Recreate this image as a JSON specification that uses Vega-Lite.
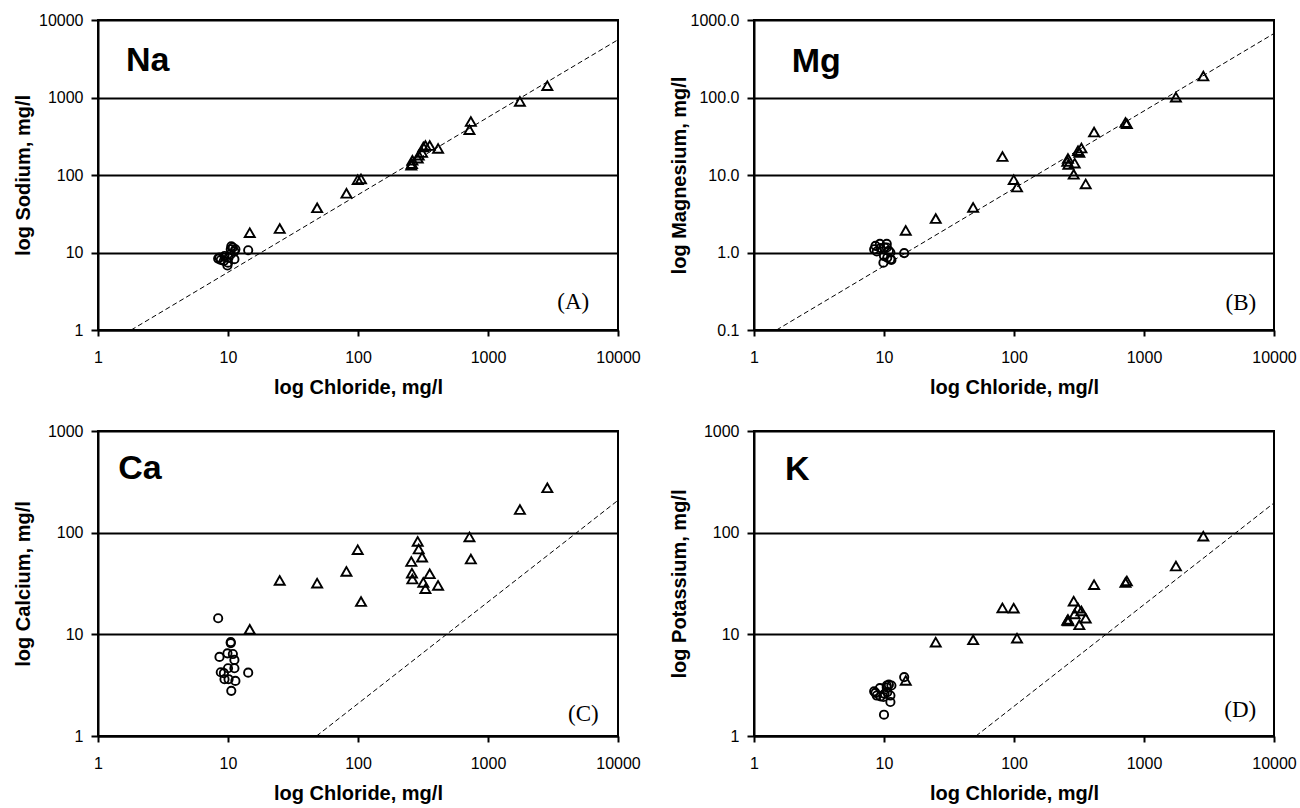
{
  "$schema": "https://vega.github.io/schema/vega-lite/v6.json",
  "background": "white",
  "padding": {"left": 12, "top": 11, "right": 2, "bottom": 2},
  "datasets": {
    "pts": [
      {"p":"A","g":"c","cl":8.4,"v":8.35},{"p":"A","g":"c","cl":8.6,"v":8.6},{"p":"A","g":"c","cl":8.8,"v":8.0},{"p":"A","g":"c","cl":9.3,"v":7.8},{"p":"A","g":"c","cl":9.4,"v":9.0},{"p":"A","g":"c","cl":9.9,"v":6.8},{"p":"A","g":"c","cl":10.0,"v":7.4},{"p":"A","g":"c","cl":10.1,"v":8.6},{"p":"A","g":"c","cl":10.5,"v":11.0},{"p":"A","g":"c","cl":10.5,"v":9.5},{"p":"A","g":"c","cl":10.6,"v":12.0},{"p":"A","g":"c","cl":10.9,"v":11.6},{"p":"A","g":"c","cl":11.2,"v":10.3},{"p":"A","g":"c","cl":11.2,"v":8.2},{"p":"A","g":"c","cl":11.4,"v":11.0},{"p":"A","g":"c","cl":14.3,"v":10.7},
      {"p":"A","g":"t","cl":14.7,"v":18},{"p":"A","g":"t","cl":25,"v":20.4},{"p":"A","g":"t","cl":48.5,"v":37.7},{"p":"A","g":"t","cl":81.5,"v":58},{"p":"A","g":"t","cl":99.5,"v":87},{"p":"A","g":"t","cl":105.5,"v":89},{"p":"A","g":"t","cl":257,"v":134},{"p":"A","g":"t","cl":260,"v":140},{"p":"A","g":"t","cl":262,"v":155},{"p":"A","g":"t","cl":288,"v":165},{"p":"A","g":"t","cl":293,"v":180},{"p":"A","g":"t","cl":311,"v":195},{"p":"A","g":"t","cl":318,"v":230},{"p":"A","g":"t","cl":330,"v":240},{"p":"A","g":"t","cl":356,"v":240},{"p":"A","g":"t","cl":413,"v":220},{"p":"A","g":"t","cl":720,"v":385},{"p":"A","g":"t","cl":738,"v":490},{"p":"A","g":"t","cl":1760,"v":890},{"p":"A","g":"t","cl":2860,"v":1420},
      {"p":"B","g":"c","cl":8.4,"v":1.1},{"p":"B","g":"c","cl":8.6,"v":1.22},{"p":"B","g":"c","cl":8.8,"v":1.03},{"p":"B","g":"c","cl":9.3,"v":1.29},{"p":"B","g":"c","cl":9.4,"v":1.14},{"p":"B","g":"c","cl":9.9,"v":0.74},{"p":"B","g":"c","cl":10.0,"v":0.9},{"p":"B","g":"c","cl":10.1,"v":1.16},{"p":"B","g":"c","cl":10.5,"v":1.29},{"p":"B","g":"c","cl":10.5,"v":1.16},{"p":"B","g":"c","cl":10.6,"v":0.86},{"p":"B","g":"c","cl":10.9,"v":1.05},{"p":"B","g":"c","cl":11.2,"v":0.82},{"p":"B","g":"c","cl":11.2,"v":1.0},{"p":"B","g":"c","cl":11.4,"v":0.8},{"p":"B","g":"c","cl":14.3,"v":0.98},
      {"p":"B","g":"t","cl":14.7,"v":1.93},{"p":"B","g":"t","cl":25,"v":2.74},{"p":"B","g":"t","cl":48.5,"v":3.82},{"p":"B","g":"t","cl":81.5,"v":17.3},{"p":"B","g":"t","cl":99.5,"v":8.7},{"p":"B","g":"t","cl":105.5,"v":7.0},{"p":"B","g":"t","cl":257,"v":15},{"p":"B","g":"t","cl":260,"v":16.3},{"p":"B","g":"t","cl":262,"v":13.7},{"p":"B","g":"t","cl":288,"v":10.2},{"p":"B","g":"t","cl":293,"v":14.2},{"p":"B","g":"t","cl":311,"v":20.6},{"p":"B","g":"t","cl":318,"v":19.5},{"p":"B","g":"t","cl":330,"v":22.3},{"p":"B","g":"t","cl":356,"v":7.66},{"p":"B","g":"t","cl":413,"v":35.8},{"p":"B","g":"t","cl":720,"v":47.5},{"p":"B","g":"t","cl":738,"v":46},{"p":"B","g":"t","cl":1760,"v":101},{"p":"B","g":"t","cl":2860,"v":189},
      {"p":"C","g":"c","cl":8.4,"v":14.4},{"p":"C","g":"c","cl":8.6,"v":6.0},{"p":"C","g":"c","cl":8.8,"v":4.24},{"p":"C","g":"c","cl":9.3,"v":4.15},{"p":"C","g":"c","cl":9.4,"v":3.62},{"p":"C","g":"c","cl":9.9,"v":6.5},{"p":"C","g":"c","cl":10.0,"v":4.64},{"p":"C","g":"c","cl":10.1,"v":3.62},{"p":"C","g":"c","cl":10.5,"v":8.4},{"p":"C","g":"c","cl":10.5,"v":8.2},{"p":"C","g":"c","cl":10.6,"v":2.78},{"p":"C","g":"c","cl":10.9,"v":6.4},{"p":"C","g":"c","cl":11.2,"v":5.6},{"p":"C","g":"c","cl":11.2,"v":4.64},{"p":"C","g":"c","cl":11.4,"v":3.48},{"p":"C","g":"c","cl":14.3,"v":4.2},
      {"p":"C","g":"t","cl":14.7,"v":11.2},{"p":"C","g":"t","cl":25,"v":33.9},{"p":"C","g":"t","cl":48.5,"v":31.9},{"p":"C","g":"t","cl":81.5,"v":41.6},{"p":"C","g":"t","cl":99.5,"v":68},{"p":"C","g":"t","cl":105.5,"v":21},{"p":"C","g":"t","cl":257,"v":52},{"p":"C","g":"t","cl":260,"v":40},{"p":"C","g":"t","cl":262,"v":35},{"p":"C","g":"t","cl":288,"v":82},{"p":"C","g":"t","cl":293,"v":69},{"p":"C","g":"t","cl":311,"v":57.5},{"p":"C","g":"t","cl":318,"v":32.4},{"p":"C","g":"t","cl":330,"v":28.1},{"p":"C","g":"t","cl":356,"v":39.4},{"p":"C","g":"t","cl":413,"v":30.3},{"p":"C","g":"t","cl":720,"v":90.7},{"p":"C","g":"t","cl":738,"v":55},{"p":"C","g":"t","cl":1760,"v":169},{"p":"C","g":"t","cl":2860,"v":276},
      {"p":"D","g":"c","cl":8.4,"v":2.75},{"p":"D","g":"c","cl":8.6,"v":2.66},{"p":"D","g":"c","cl":8.8,"v":2.5},{"p":"D","g":"c","cl":9.3,"v":2.96},{"p":"D","g":"c","cl":9.4,"v":2.45},{"p":"D","g":"c","cl":9.9,"v":2.42},{"p":"D","g":"c","cl":10.0,"v":1.62},{"p":"D","g":"c","cl":10.1,"v":2.6},{"p":"D","g":"c","cl":10.5,"v":3.14},{"p":"D","g":"c","cl":10.5,"v":3.0},{"p":"D","g":"c","cl":10.6,"v":2.7},{"p":"D","g":"c","cl":10.9,"v":3.2},{"p":"D","g":"c","cl":11.2,"v":2.16},{"p":"D","g":"c","cl":11.2,"v":2.5},{"p":"D","g":"c","cl":11.4,"v":3.14},{"p":"D","g":"c","cl":14.3,"v":3.8},
      {"p":"D","g":"t","cl":14.7,"v":3.52},{"p":"D","g":"t","cl":25,"v":8.38},{"p":"D","g":"t","cl":48.5,"v":8.83},{"p":"D","g":"t","cl":81.5,"v":18.2},{"p":"D","g":"t","cl":99.5,"v":18.1},{"p":"D","g":"t","cl":105.5,"v":9.17},{"p":"D","g":"t","cl":257,"v":13.7},{"p":"D","g":"t","cl":260,"v":14},{"p":"D","g":"t","cl":262,"v":13.5},{"p":"D","g":"t","cl":288,"v":21.2},{"p":"D","g":"t","cl":293,"v":15.9},{"p":"D","g":"t","cl":311,"v":18.1},{"p":"D","g":"t","cl":318,"v":12.4},{"p":"D","g":"t","cl":330,"v":17},{"p":"D","g":"t","cl":356,"v":14.4},{"p":"D","g":"t","cl":413,"v":30.8},{"p":"D","g":"t","cl":720,"v":32.3},{"p":"D","g":"t","cl":738,"v":33.5},{"p":"D","g":"t","cl":1760,"v":47},{"p":"D","g":"t","cl":2860,"v":92.5}
    ],
    "lines": [
      {"p":"A","cl":1.8,"v":1},{"p":"A","cl":10000,"v":5560},
      {"p":"B","cl":1.49,"v":0.1},{"p":"B","cl":10000,"v":670},
      {"p":"C","cl":48,"v":1},{"p":"C","cl":10000,"v":208},
      {"p":"D","cl":51,"v":1},{"p":"D","cl":10000,"v":196}
    ],
    "elem": [
      {"p":"A","cl":1.64,"v":2200,"t":"Na"},
      {"p":"B","cl":1.95,"v":213,"t":"Mg"},
      {"p":"C","cl":1.43,"v":334,"t":"Ca"},
      {"p":"D","cl":1.73,"v":330,"t":"K"}
    ],
    "letters": [
      {"p":"A","cl":6000,"v":1.85,"t":"(A)"},
      {"p":"B","cl":7300,"v":0.183,"t":"(B)"},
      {"p":"C","cl":7100,"v":1.4,"t":"(C)"},
      {"p":"D","cl":7300,"v":1.55,"t":"(D)"}
    ]
  },
  "columns": 2,
  "spacing": {"row": 24, "column": 26},
  "concat": [
    {
      "width": 520, "height": 310,
      "encoding": {
        "x": {"field": "cl", "type": "quantitative", "scale": {"type": "log", "domain": [1, 10000], "nice": false}, "axis": {"title": "log Chloride, mg/l", "values": [1, 10, 100, 1000, 10000], "format": "d"}},
        "y": {"field": "v", "type": "quantitative", "scale": {"type": "log", "domain": [1, 10000], "nice": false}, "axis": {"title": "log Sodium, mg/l", "values": [1, 10, 100, 1000, 10000], "format": "d"}}
      },
      "layer": [
        {"data": {"name": "lines"}, "transform": [{"filter": "datum.p === 'A'"}], "mark": {"type": "line", "color": "black", "strokeWidth": 1, "strokeDash": [5, 3]}, "encoding": {}},
        {"data": {"name": "pts"}, "transform": [{"filter": "datum.p === 'A'"}], "mark": {"type": "point", "filled": false, "color": "black", "strokeWidth": 1.9, "opacity": 1},
         "encoding": {"shape": {"field": "g", "type": "nominal", "scale": {"domain": ["c", "t"], "range": ["circle", "triangle-up"]}, "legend": null}, "size": {"field": "g", "type": "nominal", "scale": {"domain": ["c", "t"], "range": [68, 100]}, "legend": null}}},
        {"data": {"name": "elem"}, "transform": [{"filter": "datum.p === 'A'"}], "mark": {"type": "text", "align": "left", "baseline": "alphabetic", "fontSize": 34, "fontWeight": "bold", "color": "black", "font": "Liberation Sans"}, "encoding": {"text": {"field": "t"}}},
        {"data": {"name": "letters"}, "transform": [{"filter": "datum.p === 'A'"}], "mark": {"type": "text", "align": "right", "baseline": "alphabetic", "fontSize": 23, "color": "black", "font": "Liberation Serif"}, "encoding": {"text": {"field": "t"}}}
      ]
    },
    {
      "width": 520, "height": 310,
      "encoding": {
        "x": {"field": "cl", "type": "quantitative", "scale": {"type": "log", "domain": [1, 10000], "nice": false}, "axis": {"title": "log Chloride, mg/l", "values": [1, 10, 100, 1000, 10000], "format": "d"}},
        "y": {"field": "v", "type": "quantitative", "scale": {"type": "log", "domain": [0.1, 1000], "nice": false}, "axis": {"title": "log Magnesium, mg/l", "values": [0.1, 1, 10, 100, 1000], "format": ".1f"}}
      },
      "layer": [
        {"data": {"name": "lines"}, "transform": [{"filter": "datum.p === 'B'"}], "mark": {"type": "line", "color": "black", "strokeWidth": 1, "strokeDash": [5, 3]}, "encoding": {}},
        {"data": {"name": "pts"}, "transform": [{"filter": "datum.p === 'B'"}], "mark": {"type": "point", "filled": false, "color": "black", "strokeWidth": 1.9, "opacity": 1},
         "encoding": {"shape": {"field": "g", "type": "nominal", "scale": {"domain": ["c", "t"], "range": ["circle", "triangle-up"]}, "legend": null}, "size": {"field": "g", "type": "nominal", "scale": {"domain": ["c", "t"], "range": [68, 100]}, "legend": null}}},
        {"data": {"name": "elem"}, "transform": [{"filter": "datum.p === 'B'"}], "mark": {"type": "text", "align": "left", "baseline": "alphabetic", "fontSize": 34, "fontWeight": "bold", "color": "black", "font": "Liberation Sans"}, "encoding": {"text": {"field": "t"}}},
        {"data": {"name": "letters"}, "transform": [{"filter": "datum.p === 'B'"}], "mark": {"type": "text", "align": "right", "baseline": "alphabetic", "fontSize": 23, "color": "black", "font": "Liberation Serif"}, "encoding": {"text": {"field": "t"}}}
      ]
    },
    {
      "width": 520, "height": 305,
      "encoding": {
        "x": {"field": "cl", "type": "quantitative", "scale": {"type": "log", "domain": [1, 10000], "nice": false}, "axis": {"title": "log Chloride, mg/l", "values": [1, 10, 100, 1000, 10000], "format": "d"}},
        "y": {"field": "v", "type": "quantitative", "scale": {"type": "log", "domain": [1, 1000], "nice": false}, "axis": {"title": "log Calcium, mg/l", "values": [1, 10, 100, 1000], "format": "d"}}
      },
      "layer": [
        {"data": {"name": "lines"}, "transform": [{"filter": "datum.p === 'C'"}], "mark": {"type": "line", "color": "black", "strokeWidth": 1, "strokeDash": [5, 3]}, "encoding": {}},
        {"data": {"name": "pts"}, "transform": [{"filter": "datum.p === 'C'"}], "mark": {"type": "point", "filled": false, "color": "black", "strokeWidth": 1.9, "opacity": 1},
         "encoding": {"shape": {"field": "g", "type": "nominal", "scale": {"domain": ["c", "t"], "range": ["circle", "triangle-up"]}, "legend": null}, "size": {"field": "g", "type": "nominal", "scale": {"domain": ["c", "t"], "range": [68, 100]}, "legend": null}}},
        {"data": {"name": "elem"}, "transform": [{"filter": "datum.p === 'C'"}], "mark": {"type": "text", "align": "left", "baseline": "alphabetic", "fontSize": 34, "fontWeight": "bold", "color": "black", "font": "Liberation Sans"}, "encoding": {"text": {"field": "t"}}},
        {"data": {"name": "letters"}, "transform": [{"filter": "datum.p === 'C'"}], "mark": {"type": "text", "align": "right", "baseline": "alphabetic", "fontSize": 23, "color": "black", "font": "Liberation Serif"}, "encoding": {"text": {"field": "t"}}}
      ]
    },
    {
      "width": 520, "height": 305,
      "encoding": {
        "x": {"field": "cl", "type": "quantitative", "scale": {"type": "log", "domain": [1, 10000], "nice": false}, "axis": {"title": "log Chloride, mg/l", "values": [1, 10, 100, 1000, 10000], "format": "d"}},
        "y": {"field": "v", "type": "quantitative", "scale": {"type": "log", "domain": [1, 1000], "nice": false}, "axis": {"title": "log Potassium, mg/l", "values": [1, 10, 100, 1000], "format": "d"}}
      },
      "layer": [
        {"data": {"name": "lines"}, "transform": [{"filter": "datum.p === 'D'"}], "mark": {"type": "line", "color": "black", "strokeWidth": 1, "strokeDash": [5, 3]}, "encoding": {}},
        {"data": {"name": "pts"}, "transform": [{"filter": "datum.p === 'D'"}], "mark": {"type": "point", "filled": false, "color": "black", "strokeWidth": 1.9, "opacity": 1},
         "encoding": {"shape": {"field": "g", "type": "nominal", "scale": {"domain": ["c", "t"], "range": ["circle", "triangle-up"]}, "legend": null}, "size": {"field": "g", "type": "nominal", "scale": {"domain": ["c", "t"], "range": [68, 100]}, "legend": null}}},
        {"data": {"name": "elem"}, "transform": [{"filter": "datum.p === 'D'"}], "mark": {"type": "text", "align": "left", "baseline": "alphabetic", "fontSize": 34, "fontWeight": "bold", "color": "black", "font": "Liberation Sans"}, "encoding": {"text": {"field": "t"}}},
        {"data": {"name": "letters"}, "transform": [{"filter": "datum.p === 'D'"}], "mark": {"type": "text", "align": "right", "baseline": "alphabetic", "fontSize": 23, "color": "black", "font": "Liberation Serif"}, "encoding": {"text": {"field": "t"}}}
      ]
    }
  ],
  "config": {
    "font": "Liberation Sans",
    "view": {"stroke": "black", "strokeWidth": 2},
    "axis": {
      "domainColor": "black", "domainWidth": 2, "tickColor": "black", "tickWidth": 2,
      "labelColor": "black", "titleColor": "black", "labelFont": "Liberation Sans", "titleFont": "Liberation Sans",
      "labelFontSize": 16, "titleFontSize": 20, "titleFontWeight": "bold",
      "labelFlush": false, "labelOverlap": false, "labelBound": false
    },
    "axisX": {"grid": false, "tickSize": 6, "labelPadding": 13, "titleY": 63, "titleBaseline": "alphabetic"},
    "axisY": {"grid": true, "gridColor": "black", "gridWidth": 2, "gridOpacity": 1, "tickSize": 7, "labelPadding": 8, "titleX": -69, "titleBaseline": "alphabetic"}
  }
}
